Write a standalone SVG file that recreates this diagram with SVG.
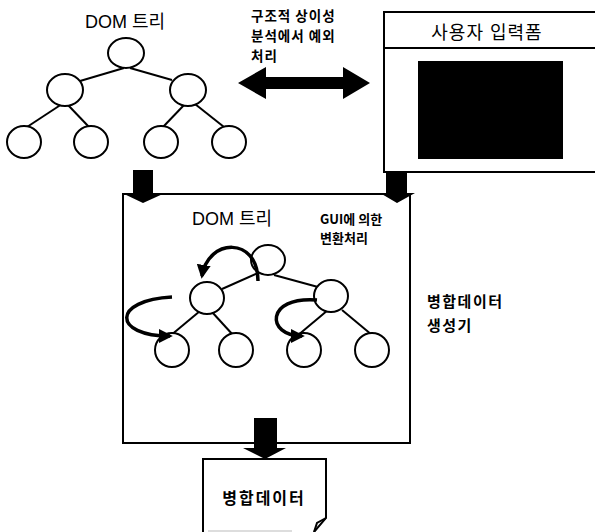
<svg xmlns="http://www.w3.org/2000/svg" width="595" height="532" viewBox="0 0 595 532">
<defs>
<style>
.n{fill:#fff;stroke:#000;stroke-width:2}
.e{stroke:#000;stroke-width:2;fill:none}
.t{font-family:"Liberation Sans","Noto Sans CJK KR",sans-serif;fill:#000}
.b{font-family:"Noto Sans CJK KR","Liberation Sans",sans-serif;font-weight:bold;fill:#000}
.box{fill:#fff;stroke:#000;stroke-width:2}
.big{fill:#000}
.cur{fill:none;stroke:#000;stroke-width:3.5}
</style>
<marker id="ah" viewBox="0 0 10 10" refX="8" refY="5" markerWidth="4" markerHeight="4" orient="auto" markerUnits="strokeWidth">
<path d="M0,0 L10,5 L0,10 z" fill="#000"/>
</marker>
</defs>
<rect width="595" height="532" fill="#fff"/>

<g id="tree1">
<text class="t" x="125" y="28" font-size="18" text-anchor="middle">DOM 트리</text>
<g class="e">
<line x1="124" y1="68" x2="80" y2="81"/>
<line x1="130" y1="68" x2="172" y2="80"/>
<line x1="62" y1="104" x2="27" y2="127"/>
<line x1="68" y1="105" x2="89" y2="127"/>
<line x1="185" y1="104" x2="163" y2="127"/>
<line x1="195" y1="104" x2="224" y2="127"/>
</g>
<ellipse class="n" cx="126" cy="53" rx="18" ry="15"/>
<ellipse class="n" cx="65" cy="90" rx="18" ry="16"/>
<ellipse class="n" cx="188" cy="90" rx="18" ry="16"/>
<ellipse class="n" cx="24" cy="142" rx="17" ry="16"/>
<ellipse class="n" cx="91" cy="142" rx="17" ry="16"/>
<ellipse class="n" cx="161" cy="142" rx="17" ry="16"/>
<ellipse class="n" cx="229" cy="142" rx="17" ry="16"/>
</g>

<g id="exception-label">
<text class="b" x="251" y="21" font-size="13.5" letter-spacing="1">구조적 상이성</text>
<text class="b" x="251" y="41" font-size="13.5" letter-spacing="1">분석에서 예외</text>
<text class="b" x="251" y="61" font-size="13.5" letter-spacing="1">처리</text>
</g>

<g id="form">
<rect class="box" x="384" y="12" width="220" height="160"/>
<line x1="384" y1="48" x2="595" y2="48" stroke="#000" stroke-width="2"/>
<text class="t" x="487" y="39" font-size="18" text-anchor="middle" letter-spacing="1">사용자 입력폼</text>
<rect x="418" y="61" width="145" height="98" fill="#000"/>
</g>

<g id="merger">
<rect class="box" x="123" y="194" width="287" height="249"/>
<text class="t" x="232" y="225" font-size="18" text-anchor="middle">DOM 트리</text>
<text class="b" x="320" y="224" font-size="13">GUI에 의한</text>
<text class="b" x="320" y="243" font-size="13">변환처리</text>
<g class="e">
<line x1="258" y1="273" x2="222" y2="289"/>
<line x1="274" y1="275" x2="318" y2="287"/>
<line x1="200" y1="311" x2="170" y2="336"/>
<line x1="212" y1="312" x2="233" y2="335"/>
<line x1="328" y1="310" x2="297" y2="336"/>
<line x1="342" y1="310" x2="372" y2="335"/>
</g>
<ellipse class="n" cx="268" cy="260" rx="17" ry="15"/>
<ellipse class="n" cx="207" cy="298" rx="17" ry="16"/>
<ellipse class="n" cx="331" cy="296" rx="17" ry="16"/>
<ellipse class="n" cx="172" cy="350" rx="17" ry="17"/>
<ellipse class="n" cx="236" cy="350" rx="17" ry="17"/>
<ellipse class="n" cx="304" cy="350" rx="17" ry="17"/>
<ellipse class="n" cx="372" cy="350" rx="17" ry="17"/>
<path class="cur" d="M258,281 C258,236 208,238 202,276" marker-end="url(#ah)"/>
<path class="cur" d="M172,297 C112,300 112,336 170,336" marker-end="url(#ah)"/>
<path class="cur" d="M317,300 C265,296 266,336 302,336" marker-end="url(#ah)"/>
</g>

<g id="merger-label">
<text class="b" x="427" y="307" font-size="15" letter-spacing="1.5">병합데이터</text>
<text class="b" x="427" y="331" font-size="15" letter-spacing="1.5">생성기</text>
</g>

<g id="merged-data">
<path d="M203,532 L203,459 L326,459 L326,518 L314,532" fill="#fff" stroke="#000" stroke-width="2"/>
<path d="M326,518 L317,523 L314,532" fill="none" stroke="#000" stroke-width="2"/>
<line x1="208" y1="531" x2="292" y2="531" stroke="#bbb" stroke-width="1"/>
<text class="b" x="264" y="504" font-size="16" letter-spacing="2" text-anchor="middle">병합데이터</text>
</g>

<g id="connectors">
<polygon class="big" points="238,83 266,67 266,77 343,77 343,67 370,83 343,99 343,89 266,89 266,99"/>
<polygon class="big" points="133,170 153,170 153,193 165,193 143,203 122,193 133,193"/>
<polygon class="big" points="386,172 407,172 407,193 415,193 397,203 380,193 386,193"/>
<polygon class="big" points="254,418 277,418 277,448 286,448 265,459 243,448 254,448"/>
</g>
</svg>
